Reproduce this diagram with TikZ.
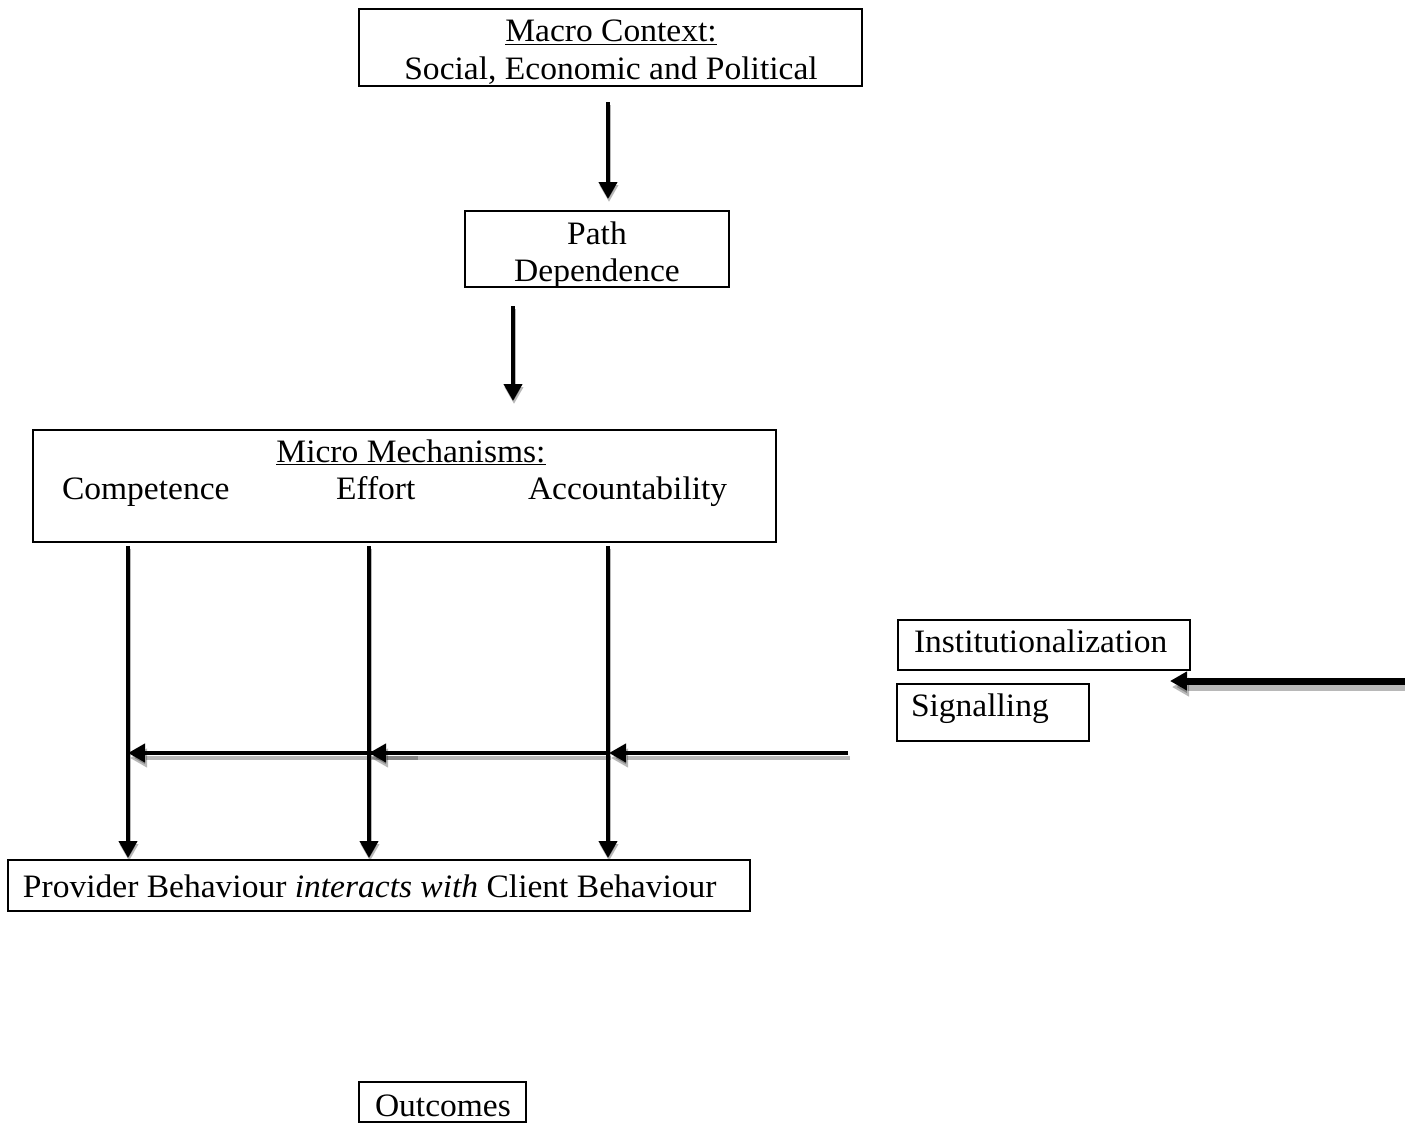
\documentclass[tikz,border=0pt]{standalone}
\usepackage{fontspec}
\setmainfont{Liberation Serif}[FakeStretch=1.025]
\usetikzlibrary{arrows.meta}
\tikzset{
  box/.style={draw, line width=2pt, inner sep=0pt, outer sep=0pt, anchor=north west},
  txt/.style={inner sep=0pt, outer sep=0pt, font=\fontsize{32.7}{37}\selectfont},
  mainline/.style={draw=black, -{Triangle[width=18pt,length=17pt]}},
  shadowline/.style={draw=black, opacity=0.28, -{Triangle[width=18pt,length=17pt]}},
}
\newcommand\sarrow[4][4pt]{%
  \draw[shadowline, line width=#1] ([shift={#4}]#2) -- ([shift={#4}]#3);
  \draw[mainline, line width=#1] (#2) -- (#3);}
\begin{document}
\begin{tikzpicture}[x=1pt,y=-1pt]
\useasboundingbox (0,0) rectangle (1405,1124);
% boxes
\node[box, minimum width=503pt, minimum height=77pt] (macro) at (359,9) {};
\node[box, minimum width=264pt, minimum height=76pt] (path) at (465,211) {};
\node[box, minimum width=743pt, minimum height=112pt] (micro) at (33,430) {};
\node[box, minimum width=742pt, minimum height=51pt] (prov) at (8,860) {};
\node[box, minimum width=167pt, minimum height=40pt] (out) at (359,1082) {};
\node[box, minimum width=292pt, minimum height=50pt] (inst) at (898,620) {};
\node[box, minimum width=192pt, minimum height=57pt] (sig) at (897,684) {};
% texts
\node[txt, anchor=base] (macroA) at (611,42) {\underline{Macro Context:}};
\node[txt, anchor=base] (macroB) at (611,79) {Social, Economic and Political};
\node[txt, anchor=base] (pathA) at (597,244) {Path};
\node[txt, anchor=base] (pathB) at (597,281) {Dependence};
\node[txt, anchor=base] (microA) at (411,462) {\underline{Micro Mechanisms:}};
\node[txt, anchor=base west] (comp) at (62,499) {Competence};
\node[txt, anchor=base west] (eff) at (336,499) {Effort};
\node[txt, anchor=base west] (acc) at (528,499) {Accountability};
\node[txt, anchor=base west] (provT) at (23,897) {Provider Behaviour \textit{interacts with} Client Behaviour};
\node[txt, anchor=base west] (outT) at (375,1116) {Outcomes};
\node[txt, anchor=base west] (instT) at (914,652) {Institutionalization};
\node[txt, anchor=base west] (sigT) at (911,716) {Signalling};
% connector end points
\coordinate (a1s) at (608,102); \coordinate (a1e) at (608,199);
\coordinate (a2s) at (513,306); \coordinate (a2e) at (513,401);
\coordinate (v1s) at (128,546); \coordinate (v1e) at (128,858);
\coordinate (v2s) at (369,546); \coordinate (v2e) at (369,858);
\coordinate (v3s) at (608,546); \coordinate (v3e) at (608,858);
\coordinate (hAs) at (848,753); \coordinate (hAe) at (609,753);
\coordinate (hBs) at (609,753); \coordinate (hBe) at (369,753);
\coordinate (hCs) at (416,753); \coordinate (hCe) at (128,753);
\coordinate (ts) at (1410,681); \coordinate (te) at (1170,681);
% arrows
\sarrow{a1s}{a1e}{(1,3)}
\sarrow{a2s}{a2e}{(1,3)}
\sarrow{hAs}{hAe}{(2,5)}
\sarrow{hBs}{hBe}{(2,5)}
\sarrow{hCs}{hCe}{(2,5)}
\sarrow{v1s}{v1e}{(1,3)}
\sarrow{v2s}{v2e}{(1,3)}
\sarrow{v3s}{v3e}{(1,3)}
\sarrow[7pt]{ts}{te}{(2,6)}
\end{tikzpicture}
\end{document}
